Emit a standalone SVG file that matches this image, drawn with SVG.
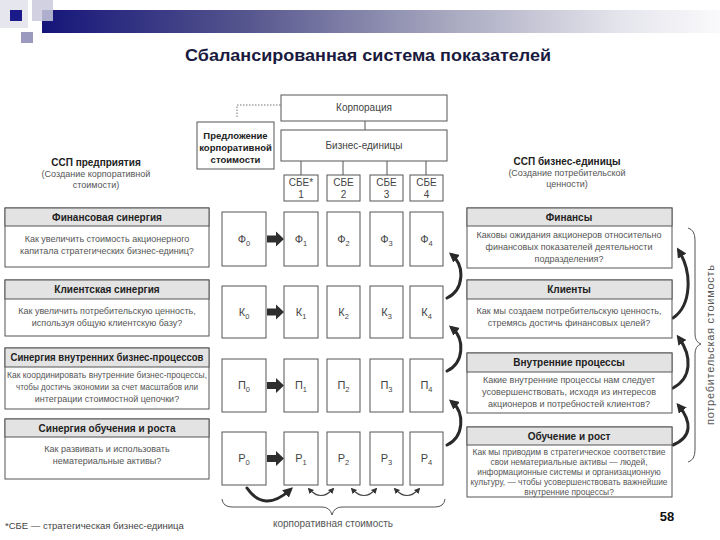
<svg xmlns="http://www.w3.org/2000/svg" width="720" height="540" viewBox="0 0 720 540">
<defs>
<linearGradient id="bar" x1="0" y1="0" x2="1" y2="0">
<stop offset="0" stop-color="#15157a"/>
<stop offset="0.3" stop-color="#55558e"/>
<stop offset="0.6" stop-color="#a8a8c0"/>
<stop offset="0.85" stop-color="#e4e4ec"/>
<stop offset="1" stop-color="#fafafc"/>
</linearGradient>
<marker id="ah" viewBox="0 0 10 10" refX="6" refY="5" markerWidth="10" markerHeight="10" markerUnits="userSpaceOnUse" orient="auto">
<path d="M0,0 L10,5 L0,10 z" fill="#2a2a2a"/>
</marker>
<marker id="sh" viewBox="0 0 10 10" refX="7" refY="5" markerWidth="6" markerHeight="6" markerUnits="userSpaceOnUse" orient="auto-start-reverse">
<path d="M0,0 L10,5 L0,10 z" fill="#333"/>
</marker>
<style>
.t{font-family:"Liberation Sans",Arial,sans-serif}
.box{fill:#fff;stroke:#555;stroke-width:1}
.hb{fill:#e3e3e3;stroke:#555;stroke-width:1}
.h{font-weight:bold;font-size:10px;fill:#222;text-anchor:middle}
.b{font-size:9px;fill:#555;text-anchor:middle}
.b4{font-size:8.4px;fill:#555;text-anchor:middle}
.g{font-size:11px;fill:#444;text-anchor:middle}
.s{font-size:7.5px}
.c{font-size:10px;fill:#444;text-anchor:middle}
.thick{fill:none;stroke:#2a2a2a;stroke-width:3;stroke-linecap:round}
.thin{fill:none;stroke:#444;stroke-width:1.2}
.blk{fill:#2e2e2e}
</style>
</defs>

<g id="header">
<rect x="0" y="0" width="28" height="28" fill="#e6e6ef"/>
<rect x="42" y="10" width="678" height="23" fill="url(#bar)"/>
<rect x="32" y="0" width="21" height="21" fill="#c9c9dc" opacity="0.85"/>
<rect x="10" y="10" width="12" height="11" fill="#1a1a8a"/>
<rect x="21" y="32" width="12" height="11" fill="#9a9abf"/>
<text class="t" x="368" y="61" font-size="17" font-weight="bold" fill="#1a1a40" text-anchor="middle" textLength="366" lengthAdjust="spacingAndGlyphs">Сбалансированная система показателей</text>
</g>

<g id="connectors">
<path d="M237,117 V105 H281" fill="none" stroke="#777" stroke-width="1" stroke-dasharray="1.5,1.5"/>
<line x1="365" y1="121" x2="365" y2="130" stroke="#555"/>
<line x1="301" y1="161" x2="301" y2="175" stroke="#555"/>
<line x1="343" y1="161" x2="343" y2="175" stroke="#555"/>
<line x1="387" y1="161" x2="387" y2="175" stroke="#555"/>
<line x1="426" y1="161" x2="426" y2="175" stroke="#555"/>
<path class="blk" d="M267,235.5 H276 V231.5 L284,239 L276,246.5 V242.5 H267 Z"/>
<path class="blk" d="M267,308.5 H276 V304.5 L284,312 L276,319.5 V315.5 H267 Z"/>
<path class="blk" d="M267,382 H276 V378 L284,385.5 L276,393 V389 H267 Z"/>
<path class="blk" d="M267,455 H276 V451 L284,458.5 L276,466 V462 H267 Z"/>
<path class="thick" d="M447,298 C464,290 465,266 452,255" marker-end="url(#ah)"/>
<path class="thick" d="M447,371 C464,363 465,339 452,328" marker-end="url(#ah)"/>
<path class="thick" d="M447,445 C464,437 465,413 452,402" marker-end="url(#ah)"/>
<path class="thick" d="M673,318 C692,305 692,272 679,251" marker-end="url(#ah)"/>
<path class="thick" d="M673,388 C692,378 692,356 679,338" marker-end="url(#ah)"/>
<path class="thick" d="M673,445 C692,437 692,422 679,406" marker-end="url(#ah)"/>
<path class="thick" d="M247,488 Q264,513 290,490" marker-end="url(#ah)"/>
<path class="thin" d="M309,489 Q321,502 333,489" marker-start="url(#sh)" marker-end="url(#sh)"/>
<path class="thin" d="M352,489 Q364,502 376,489" marker-start="url(#sh)" marker-end="url(#sh)"/>
<path class="thin" d="M395,489 Q407,502 419,489" marker-start="url(#sh)" marker-end="url(#sh)"/>
<path fill="none" stroke="#555" stroke-width="1" d="M222,499 Q223,507 232,507 L322,507 Q330,507 332,515 Q334,507 342,507 L435,507 Q444,507 445,499"/>
<path fill="none" stroke="#555" stroke-width="1" d="M688,228 Q695,230 695,240 L695,334 Q695,342 701,344 Q695,346 695,354 L695,450 Q695,460 688,462"/>
</g>

<g id="corp" class="t">
<rect class="box" x="281" y="95" width="166" height="26"/>
<text class="c" x="364" y="111">Корпорация</text>
</g>
<g id="proposal" class="t">
<rect class="box" x="197" y="122" width="77" height="47"/>
<text class="h" x="235.5" y="139" style="font-size:9.5px">Предложение</text>
<text class="h" x="235.5" y="151" style="font-size:9.5px">корпоративной</text>
<text class="h" x="235.5" y="163" style="font-size:9.5px">стоимости</text>
</g>
<g id="bu" class="t">
<rect class="box" x="281" y="130" width="166" height="31"/>
<text class="c" x="364" y="149">Бизнес-единицы</text>
</g>
<g id="sbe1" class="t"><rect class="box" x="284" y="175" width="34" height="26"/><text class="c" x="301" y="186">СБЕ*</text><text class="c" x="301" y="198">1</text></g>
<g id="sbe2" class="t"><rect class="box" x="327" y="175" width="33" height="26"/><text class="c" x="343.5" y="186">СБЕ</text><text class="c" x="343.5" y="198">2</text></g>
<g id="sbe3" class="t"><rect class="box" x="370" y="175" width="33" height="26"/><text class="c" x="386.5" y="186">СБЕ</text><text class="c" x="386.5" y="198">3</text></g>
<g id="sbe4" class="t"><rect class="box" x="410" y="175" width="33" height="26"/><text class="c" x="426.5" y="186">СБЕ</text><text class="c" x="426.5" y="198">4</text></g>

<g id="left-title" class="t">
<text class="h" x="96" y="166">ССП предприятия</text>
<text class="b" x="96" y="177">(Создание корпоративной</text>
<text class="b" x="96" y="188">стоимости)</text>
</g>
<g id="right-title" class="t">
<text class="h" x="567" y="165">ССП бизнес-единицы</text>
<text class="b" x="567" y="176">(Создание потребительской</text>
<text class="b" x="567" y="187">ценности)</text>
</g>

<g id="L1" class="t">
<rect class="box" x="5" y="208" width="204" height="59"/>
<rect class="hb" x="5" y="208" width="204" height="18"/>
<text class="h" x="107" y="220.5">Финансовая синергия</text>
<text class="b" x="107" y="242">Как увеличить стоимость акционерного</text>
<text class="b" x="107" y="254">капитала стратегических бизнес-единиц?</text>
</g>
<g id="L2" class="t">
<rect class="box" x="5" y="280" width="204" height="56"/>
<rect class="hb" x="5" y="280" width="204" height="19"/>
<text class="h" x="107" y="293">Клиентская синергия</text>
<text class="b" x="107" y="314">Как увеличить потребительскую ценность,</text>
<text class="b" x="107" y="326">используя общую клиентскую базу?</text>
</g>
<g id="L3" class="t">
<rect class="box" x="5" y="348" width="204" height="61"/>
<rect class="hb" x="5" y="348" width="204" height="19"/>
<text class="h" x="107" y="361" textLength="193" lengthAdjust="spacingAndGlyphs">Синергия внутренних бизнес-процессов</text>
<text class="b" x="107" y="378" textLength="200" lengthAdjust="spacingAndGlyphs">Как координировать внутренние бизнес-процессы,</text>
<text class="b" x="107" y="390" textLength="182" lengthAdjust="spacingAndGlyphs">чтобы достичь экономии за счет масштабов или</text>
<text class="b" x="107" y="402">интеграции стоимостной цепочки?</text>
</g>
<g id="L4" class="t">
<rect class="box" x="5" y="419" width="204" height="60"/>
<rect class="hb" x="5" y="419" width="204" height="18"/>
<text class="h" x="107" y="431.5">Синергия обучения и роста</text>
<text class="b" x="107" y="452">Как развивать и использовать</text>
<text class="b" x="107" y="464">нематериальные активы?</text>
</g>

<g id="R1" class="t">
<rect class="box" x="467" y="208" width="205" height="60"/>
<rect class="hb" x="467" y="208" width="205" height="18"/>
<text class="h" x="569" y="220.5">Финансы</text>
<text class="b" x="569" y="238">Каковы ожидания акционеров относительно</text>
<text class="b" x="569" y="250">финансовых показателей деятельности</text>
<text class="b" x="569" y="262">подразделения?</text>
</g>
<g id="R2" class="t">
<rect class="box" x="467" y="280" width="205" height="58"/>
<rect class="hb" x="467" y="280" width="205" height="19"/>
<text class="h" x="569" y="293">Клиенты</text>
<text class="b" x="569" y="314">Как мы создаем потребительскую ценность,</text>
<text class="b" x="569" y="326">стремясь достичь финансовых целей?</text>
</g>
<g id="R3" class="t">
<rect class="box" x="467" y="353" width="205" height="60"/>
<rect class="hb" x="467" y="353" width="205" height="19"/>
<text class="h" x="569" y="366">Внутренние процессы</text>
<text class="b" x="569" y="383">Какие внутренние процессы нам следует</text>
<text class="b" x="569" y="395">усовершенствовать, исходя из интересов</text>
<text class="b" x="569" y="407">акционеров и потребностей клиентов?</text>
</g>
<g id="R4" class="t">
<rect class="box" x="467" y="427" width="205" height="70"/>
<rect class="hb" x="467" y="427" width="205" height="18"/>
<text class="h" x="569" y="439.5">Обучение и рост</text>
<text class="b4" x="569" y="455" textLength="193" lengthAdjust="spacingAndGlyphs">Как мы приводим в стратегическое соответствие</text>
<text class="b4" x="569" y="465">свои нематериальные активы — людей,</text>
<text class="b4" x="569" y="475">информационные системы и организационную</text>
<text class="b4" x="569" y="485" textLength="197" lengthAdjust="spacingAndGlyphs">культуру, — чтобы усовершенствовать важнейшие</text>
<text class="b4" x="569" y="495">внутренние процессы?</text>
</g>

<g id="F0" class="t"><rect class="box" x="222" y="212" width="44" height="54"/><text class="g" x="244" y="243">Ф<tspan class="s" dy="3">0</tspan></text></g>
<g id="F1" class="t"><rect class="box" x="284" y="212" width="34" height="54"/><text class="g" x="301" y="243">Ф<tspan class="s" dy="3">1</tspan></text></g>
<g id="F2" class="t"><rect class="box" x="327" y="212" width="33" height="54"/><text class="g" x="343.5" y="243">Ф<tspan class="s" dy="3">2</tspan></text></g>
<g id="F3" class="t"><rect class="box" x="370" y="212" width="33" height="54"/><text class="g" x="386.5" y="243">Ф<tspan class="s" dy="3">3</tspan></text></g>
<g id="F4" class="t"><rect class="box" x="410" y="212" width="33" height="54"/><text class="g" x="426.5" y="243">Ф<tspan class="s" dy="3">4</tspan></text></g>

<g id="K0" class="t"><rect class="box" x="222" y="286" width="44" height="52"/><text class="g" x="244" y="316">К<tspan class="s" dy="3">0</tspan></text></g>
<g id="K1" class="t"><rect class="box" x="284" y="286" width="34" height="52"/><text class="g" x="301" y="316">К<tspan class="s" dy="3">1</tspan></text></g>
<g id="K2" class="t"><rect class="box" x="327" y="286" width="33" height="52"/><text class="g" x="343.5" y="316">К<tspan class="s" dy="3">2</tspan></text></g>
<g id="K3" class="t"><rect class="box" x="370" y="286" width="33" height="52"/><text class="g" x="386.5" y="316">К<tspan class="s" dy="3">3</tspan></text></g>
<g id="K4" class="t"><rect class="box" x="410" y="286" width="33" height="52"/><text class="g" x="426.5" y="316">К<tspan class="s" dy="3">4</tspan></text></g>

<g id="P0" class="t"><rect class="box" x="222" y="359" width="44" height="53"/><text class="g" x="244" y="389">П<tspan class="s" dy="3">0</tspan></text></g>
<g id="P1" class="t"><rect class="box" x="284" y="359" width="34" height="53"/><text class="g" x="301" y="389">П<tspan class="s" dy="3">1</tspan></text></g>
<g id="P2" class="t"><rect class="box" x="327" y="359" width="33" height="53"/><text class="g" x="343.5" y="389">П<tspan class="s" dy="3">2</tspan></text></g>
<g id="P3" class="t"><rect class="box" x="370" y="359" width="33" height="53"/><text class="g" x="386.5" y="389">П<tspan class="s" dy="3">3</tspan></text></g>
<g id="P4" class="t"><rect class="box" x="410" y="359" width="33" height="53"/><text class="g" x="426.5" y="389">П<tspan class="s" dy="3">4</tspan></text></g>

<g id="R0" class="t"><rect class="box" x="222" y="432" width="44" height="53"/><text class="g" x="244" y="462">Р<tspan class="s" dy="3">0</tspan></text></g>
<g id="Rr1" class="t"><rect class="box" x="284" y="432" width="34" height="53"/><text class="g" x="301" y="462">Р<tspan class="s" dy="3">1</tspan></text></g>
<g id="Rr2" class="t"><rect class="box" x="327" y="432" width="33" height="53"/><text class="g" x="343.5" y="462">Р<tspan class="s" dy="3">2</tspan></text></g>
<g id="Rr3" class="t"><rect class="box" x="370" y="432" width="33" height="53"/><text class="g" x="386.5" y="462">Р<tspan class="s" dy="3">3</tspan></text></g>
<g id="Rr4" class="t"><rect class="box" x="410" y="432" width="33" height="53"/><text class="g" x="426.5" y="462">Р<tspan class="s" dy="3">4</tspan></text></g>

<g id="labels" class="t">
<text x="333" y="527" font-size="10" fill="#555" text-anchor="middle">корпоративная стоимость</text>
<text transform="translate(714,345) rotate(-90)" font-size="11" fill="#555" text-anchor="middle" textLength="160" lengthAdjust="spacing">потребительская стоимость</text>
<text x="5" y="529" font-size="9.5" fill="#444">*СБЕ — стратегическая бизнес-единица</text>
<text x="667" y="521" font-size="13" font-weight="bold" fill="#111" text-anchor="middle">58</text>
</g>
</svg>
